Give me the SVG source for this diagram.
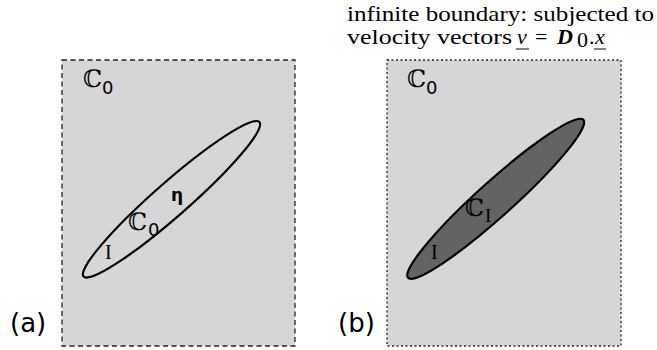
<svg xmlns="http://www.w3.org/2000/svg" width="657" height="350" viewBox="0 0 657 350">
<style>
.bg{fill:#d6d6d6;stroke:#222;stroke-width:1.3}
.dash{stroke-dasharray:5 3.5}
.dot{stroke-dasharray:2 2.5}
.ell{stroke:#000;stroke-width:2.2}
.dbl{font-family:'DejaVu Serif','DejaVu Sans',serif;font-size:24px;fill:#000}
.sub{font-family:'DejaVu Sans',sans-serif;font-size:18px;fill:#000}
.ser{font-family:'Liberation Serif','Times New Roman',serif;fill:#000}
.lab{font-family:'DejaVu Sans',sans-serif;font-size:26px;fill:#000}
.top{font-family:'Liberation Serif','Times New Roman',serif;font-size:22px;fill:#000}
</style>
<g id="caption">
<text class="top" x="347" y="21" textLength="307" lengthAdjust="spacingAndGlyphs">infinite boundary: subjected to</text>
<text class="top" x="347" y="44" textLength="165" lengthAdjust="spacingAndGlyphs">velocity vectors</text>
<text class="top" x="517" y="44" font-style="italic">v</text>
<line x1="516" y1="49" x2="529" y2="49" stroke="#000" stroke-width="1"/>
<text class="top" x="535" y="44">=</text>
<text class="top" x="557" y="44" font-style="italic" font-weight="bold">D</text>
<text class="top" x="577" y="47" font-size="14">0</text>
<text class="top" x="589" y="44">.</text>
<text class="top" x="595" y="44" font-style="italic">x</text>
<line x1="594" y1="49" x2="606" y2="49" stroke="#000" stroke-width="1"/>
</g>
<g id="panel-a">
<rect class="bg dash" x="62" y="60" width="233" height="286"/>
<text class="dbl" x="83" y="87">ℂ</text>
<text class="sub" x="102" y="94">0</text>
<ellipse class="ell" cx="171.5" cy="199.3" rx="117" ry="17" fill="none" transform="rotate(-41.3 171.5 199.3)"/>
<text class="dbl" x="128" y="230">ℂ</text>
<text class="sub" x="148" y="236" font-size="22px">0</text>
<text x="171" y="201" font-family="'DejaVu Sans',sans-serif" font-weight="bold" font-size="17px">η</text>
<text class="ser" x="105" y="259" font-size="20px">I</text>
<text class="lab" x="10" y="332">(a)</text>
</g>
<g id="panel-b">
<rect class="bg dot" x="387" y="60" width="234" height="286"/>
<text class="dbl" x="407" y="87">ℂ</text>
<text class="sub" x="426" y="94">0</text>
<ellipse class="ell" cx="495.7" cy="198.8" rx="118" ry="17.5" fill="#636363" transform="rotate(-42 495.7 198.8)"/>
<text class="dbl" x="465" y="216">ℂ</text>
<text class="ser" x="485" y="222" font-size="19px">I</text>
<text class="ser" x="431" y="259" font-size="20px">I</text>
<text class="lab" x="338" y="332">(b)</text>
</g>
<g id="connectors"/>
</svg>
